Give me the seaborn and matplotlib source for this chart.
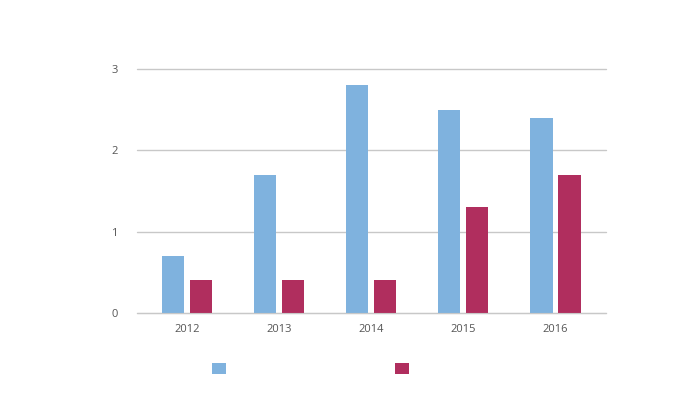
import matplotlib
matplotlib.use("Agg")
import matplotlib.pyplot as plt
import seaborn as sns
import pandas as pd
from matplotlib.patches import Patch

years = ["2012", "2013", "2014", "2015", "2016"]
series_a = [0.7, 1.7, 2.8, 2.5, 2.4]
series_b = [0.4, 0.4, 0.4, 1.3, 1.7]
series_names = ["A", "B"]
colors = ["#7fb2de", "#b02e5e"]

df = pd.DataFrame({
    "year": years * 2,
    "value": series_a + series_b,
    "series": [series_names[0]] * len(years) + [series_names[1]] * len(years),
})

sns.set_style("white")
plt.rcParams["font.family"] = ["Open Sans", "DejaVu Sans"]

fig = plt.figure(figsize=(7, 3.93), dpi=100)
ax = fig.add_axes([137/700, 1-313/393, (606-137)/700, (313-69)/393])

sns.barplot(data=df, x="year", y="value", hue="series", palette=colors,
            width=0.608, gap=0.2, ax=ax, legend=False, saturation=1, linewidth=0)

ax.set_xlim(-0.543, 4.55)
ax.set_ylim(0, 3)
ax.set_yticks([0, 1, 2, 3])
ax.set_yticklabels(["0", "1", "2", "3"])
ax.set_xlabel("")
ax.set_ylabel("")
ax.grid(axis="y", color="#c8c8c8", linewidth=1)
ax.set_axisbelow(True)
for s in ["top", "right", "left"]:
    ax.spines[s].set_visible(False)
ax.spines["bottom"].set_color("#c8c8c8")
ax.tick_params(axis="y", length=0, pad=14, labelsize=8, labelcolor="#555555")
ax.tick_params(axis="x", length=4, color="#c8c8c8", pad=4, labelsize=8, labelcolor="#555555")
for line in ax.get_ygridlines():
    line.set_clip_on(False)

handles = [Patch(facecolor=colors[0], edgecolor="none"), Patch(facecolor=colors[1], edgecolor="none")]
fig.legend(handles, ["", ""], loc="center", bbox_to_anchor=(0.4436, 1-370/393), ncol=2,
           frameon=False, handlelength=1.0, handleheight=0.9, columnspacing=12.2, handletextpad=0)

fig.savefig("out.png", dpi=100)
